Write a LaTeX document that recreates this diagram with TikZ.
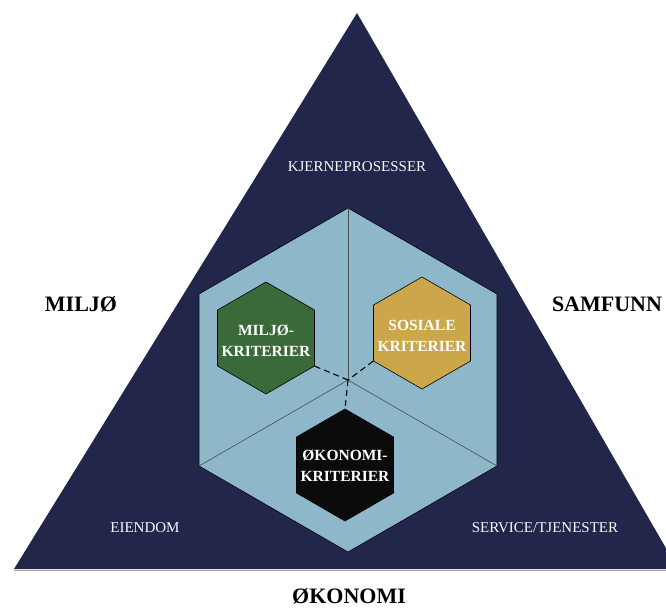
\documentclass[tikz,border=0pt]{standalone}
\usepackage{fontspec}
\setmainfont{Liberation Serif}
\usetikzlibrary{shapes.geometric}
\definecolor{navy}{HTML}{22264B}
\definecolor{paleblue}{HTML}{8EB8C9}
\definecolor{miljogreen}{HTML}{3B6A3A}
\definecolor{sosialgold}{HTML}{CCA64A}
\definecolor{okoblack}{HTML}{0B0B0B}
\begin{document}
\begin{tikzpicture}[
    x=1pt, y=-1pt,
    hexa/.style={regular polygon, regular polygon sides=6, shape border rotate=30,
      inner sep=0pt, draw=black, line width=0.6pt},
    crit/.style={hexa, minimum size=112pt},
    critname/.style={text=white, align=center, inner sep=0pt,
      font=\fontsize{15.5}{21}\selectfont\bfseries},
    pillar/.style={font=\fontsize{22}{26}\selectfont\bfseries, anchor=base},
    area/.style={text=white!92!paleblue, font=\fontsize{15}{17}\selectfont, anchor=base},
    split/.style={draw=black!70, line width=0.6pt},
    link/.style={draw=black, line width=1.1pt, dash pattern=on 6pt off 4pt}
  ]
  \clip (0,0) rectangle (666,608);
  \coordinate (apex) at (357,13);
  \coordinate (baseL) at (14,569);
  \coordinate (baseR) at (678,569);
  \draw[gray!70, line width=1pt] ([yshift=-1.5pt]baseL) -- ([yshift=-1.5pt]baseR);
  \fill[navy] (apex) -- (baseL) -- (baseR) -- cycle;
  \node[hexa, minimum size=344pt, fill=paleblue] (cube) at (348,380) {};
  \draw[split] (cube.center) -- (cube.90);
  \draw[split] (cube.center) -- (cube.210);
  \draw[split] (cube.center) -- (cube.330);
  \node[crit, fill=miljogreen] (miljo) at (266,338) {};
  \node[crit, fill=sosialgold] (sosial) at (422,333) {};
  \node[crit, fill=okoblack] (okonomi) at (345,465) {};
  \draw[link] (miljo.330) -- (cube.center);
  \draw[link] (sosial.210) -- (cube.center);
  \draw[link] (cube.center) -- (okonomi.90);
  \node[critname] (miljoname) at ([yshift=-3pt]miljo.center) {MILJØ-\\KRITERIER};
  \node[critname] (sosialname) at ([yshift=-3pt]sosial.center) {SOSIALE\\KRITERIER};
  \node[critname] (okonominame) at ([yshift=-1pt]okonomi.center) {ØKONOMI-\\KRITERIER};
  \node[area] (kjerne) at (357,171) {KJERNEPROSESSER};
  \node[area] (eiendom) at (145,532) {EIENDOM};
  \node[area] (service) at (545,532) {SERVICE/TJENESTER};
  \node[pillar] (miljoord) at (81,311) {MILJØ};
  \node[pillar] (samfunn) at (607,311) {SAMFUNN};
  \node[pillar] (okonomiord) at (349,603) {ØKONOMI};
\end{tikzpicture}
\end{document}
